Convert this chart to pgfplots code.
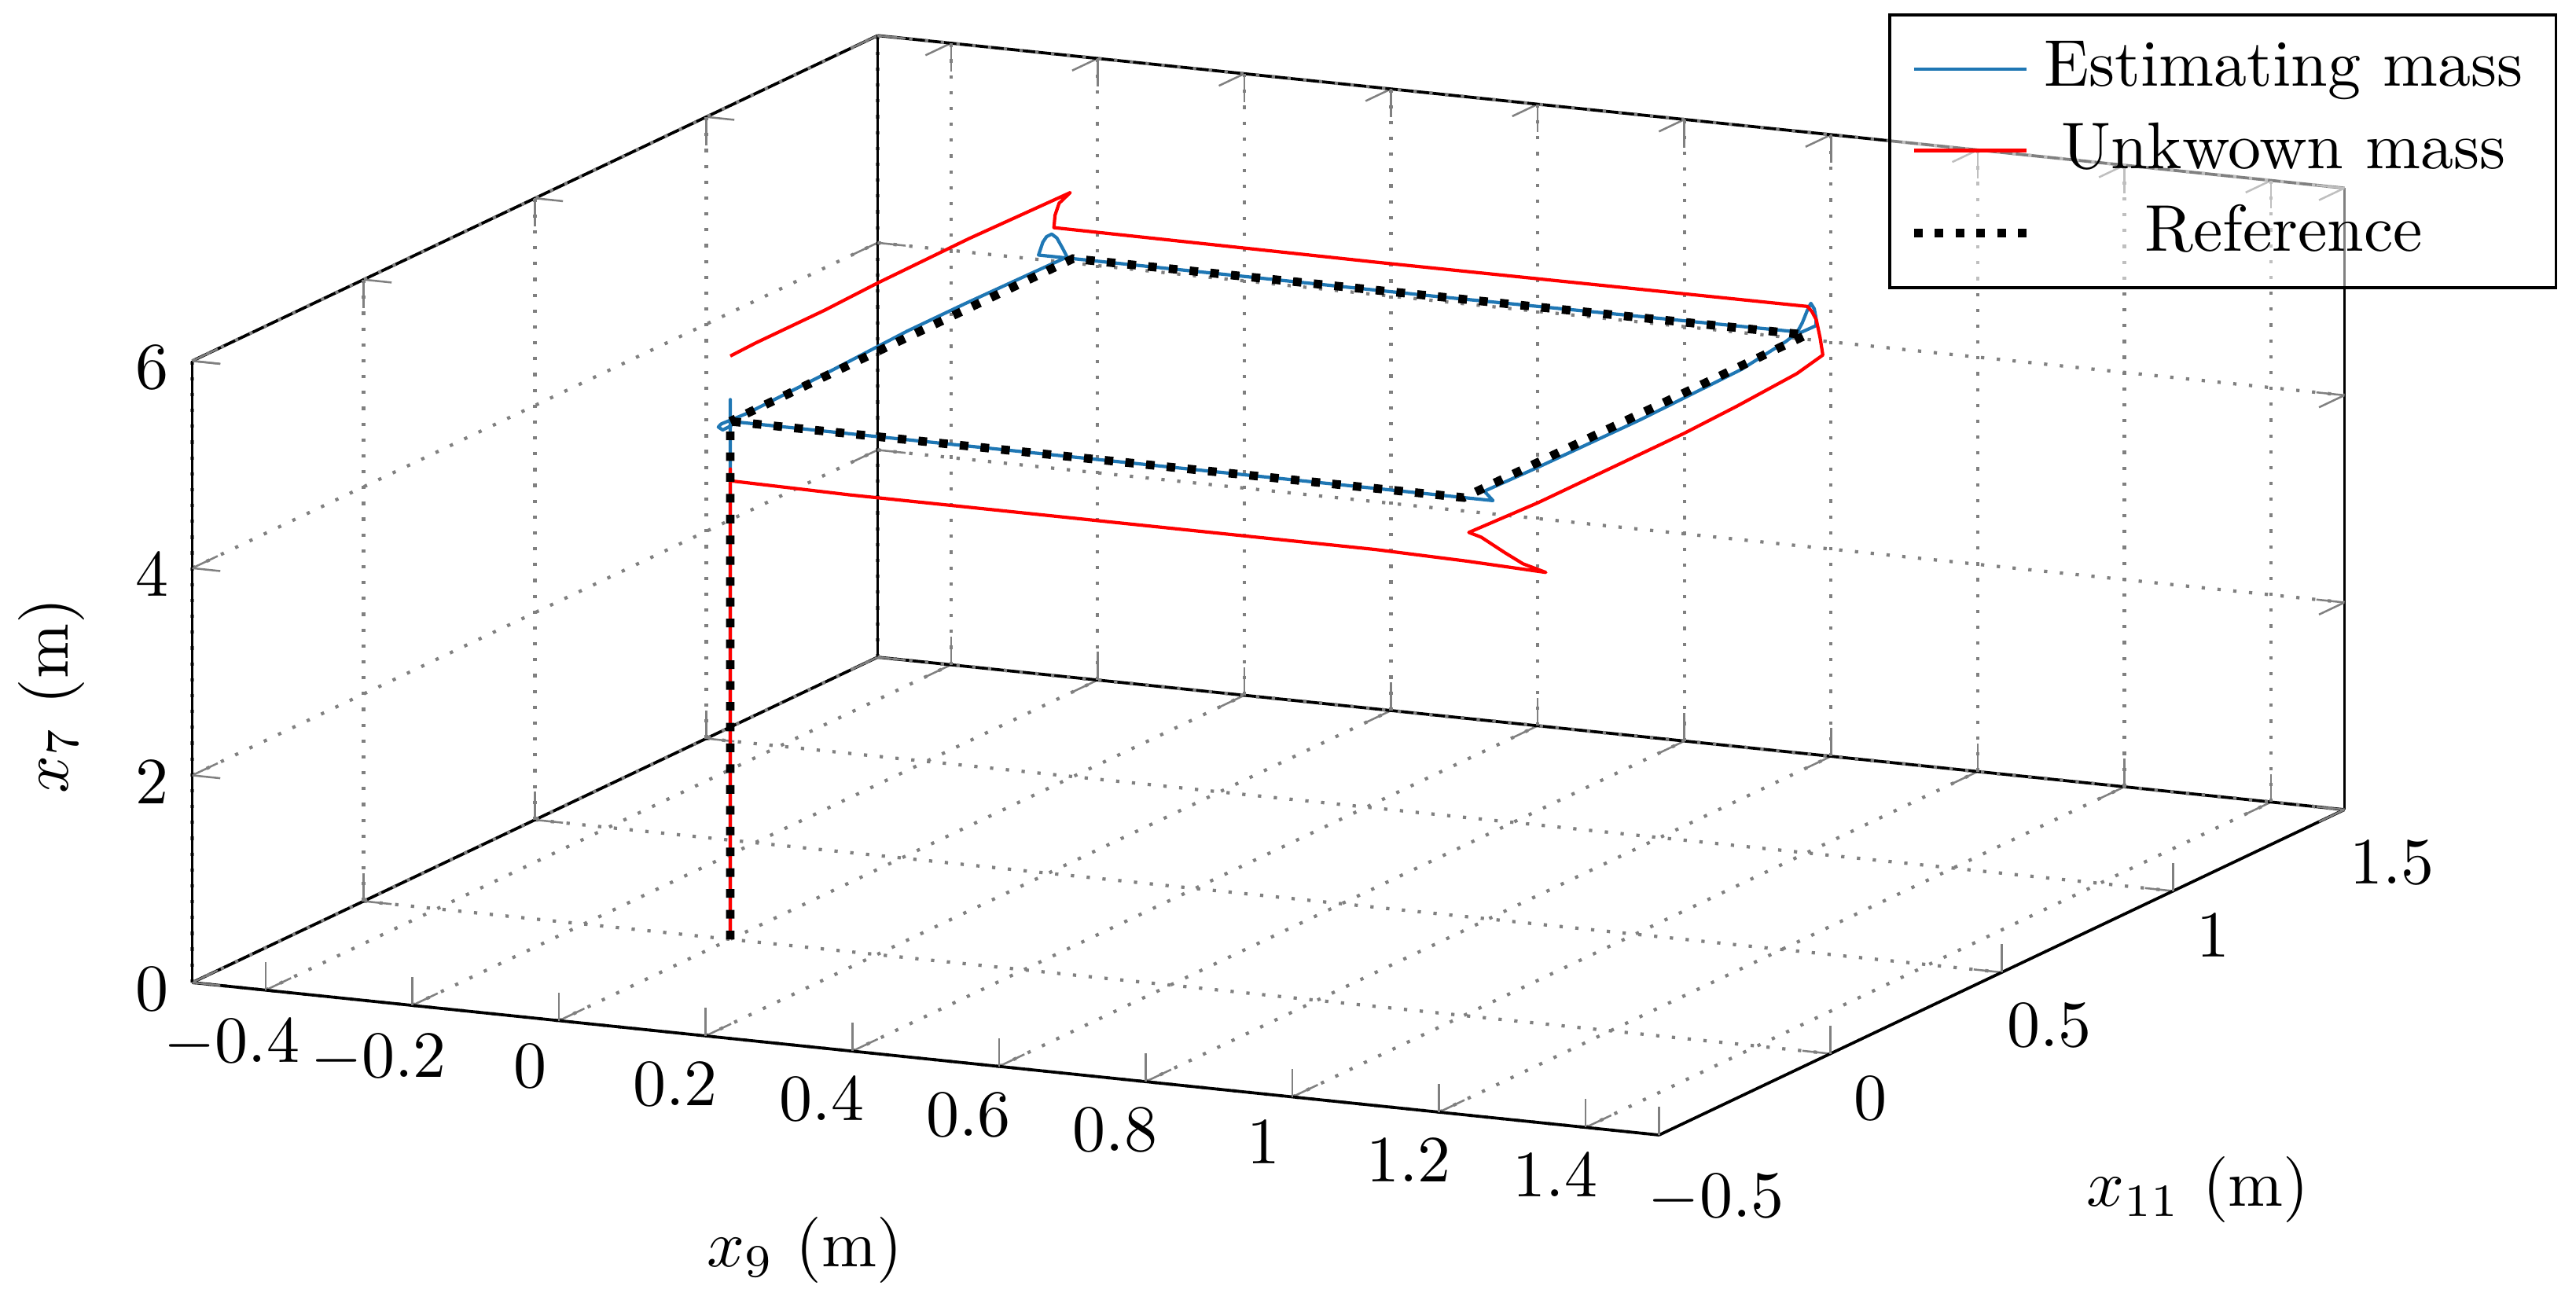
\documentclass[border=0pt]{standalone}
\usepackage{pgfplots}
\pgfplotsset{compat=1.18}
\definecolor{myblue}{HTML}{1F77B4}
\begin{document}
\begin{tikzpicture}
\path[use as bounding box] (0,0) rectangle (390.13pt,197.39pt);
\begin{axis}[
  at={(110.6pt,55.12pt)}, anchor=origin,
  x={(111.07pt,-11.55pt)}, y={(51.9pt,24.64pt)}, z={(0pt,15.69pt)},
  xmin=-0.5, xmax=1.5, ymin=-0.5, ymax=1.5, zmin=0, zmax=6,
  xtick={-0.4,-0.2,0,0.2,0.4,0.6,0.8,1,1.2,1.4},
  ytick={-0.5,0,0.5,1,1.5},
  ztick={0,2,4,6},
  grid=major,
  axis line style={line width=0.45pt},
  grid style={dash pattern=on 0.5pt off 1.9pt,line width=0.5pt,gray},
  tick style={color=gray,line width=0.3pt},
  tick align=inside,
  xlabel={$x_{9}$ (m)},
  ylabel={$x_{11}$ (m)},
  zlabel={$x_{7}$ (m)},
  legend cell align=center,
  legend style={at={(1.099,1.02)},anchor=north east,fill opacity=0.5,draw opacity=1,text opacity=1,draw=black,line width=0.45pt},
]
\addplot3[color=myblue,line width=0.5pt,line join=round] coordinates {
(0,0,0) (0,0,4.9) (0,0,5.21) (0,0,5.0) (0.5,0,5) (0.95,0,5) (1.04,0,5)
(1.008,0.043,5) (1.008,0.2,4.985) (1.008,0.5,4.975) (1.005,0.8,4.985) (1,0.94,5.03) (1,0.96,5.05)
(0.998,0.982,5.08) (0.999,0.99,5.13) (1.001,1.001,5.24) (1,1.013,5.284) (1,1.023,5.216) (1,1.028,5.12) (1,1.028,5.045)
(0.993,1,5.02) (0.5,1,5) (0.02,1,5) (-0.047,1,5)
(-0.041,1,5.13) (-0.036,1,5.186) (-0.029,1,5.216) (-0.022,1,5.183) (-0.014,1,5.088) (-0.008,1,5.01)
(0,0.87,5.05) (0,0.685,5.06) (0,0.517,5.06) (0,0.2535,5.02) (0,0.05,5) (-0.004,-0.018,5) (0,-0.035,5) (0.012,-0.0476,5) (0.011,-0.019,5)
};
\addlegendentry{Estimating mass}
\addplot3[color=red,line width=0.5pt,line join=round] coordinates {
(0,0,0) (0,0,4.54) (0,0,4.426) (0.162,0,4.41) (0.88,0,4.41) (1.003,0,4.39) (1.112,0,4.36)
(1.081,0,4.42) (1.056,0,4.51) (1.024,0,4.635) (1.0,0.015,4.64) (1,0.217,4.61) (1,0.41,4.61) (1,0.643,4.61) (1,0.796,4.63) (1,0.972,4.67) (1,1.048,4.73)
(1,1.04,4.91) (1,1.029,5.10) (1,1.016,5.2) (1,1.003,5.27) (0.413,1,5.27) (-0.026,1,5.28)
(-0.0245,1,5.40) (-0.019,1,5.52) (0,0.992,5.65)
(0,0.697,5.67) (0,0.429,5.66) (0,0.275,5.64) (0,0.073,5.64) (0,0,5.63)
};
\addlegendentry{Unkwown mass}
\addplot3[color=black,line width=1.3pt,dash pattern=on 1.3pt off 1.85pt] coordinates {
(0,0,0) (0,0,5) (1,0,5) (1,1,5) (0,1,5) (0,0,5)
};
\addlegendentry{Reference}
\end{axis}
\end{tikzpicture}
\end{document}
